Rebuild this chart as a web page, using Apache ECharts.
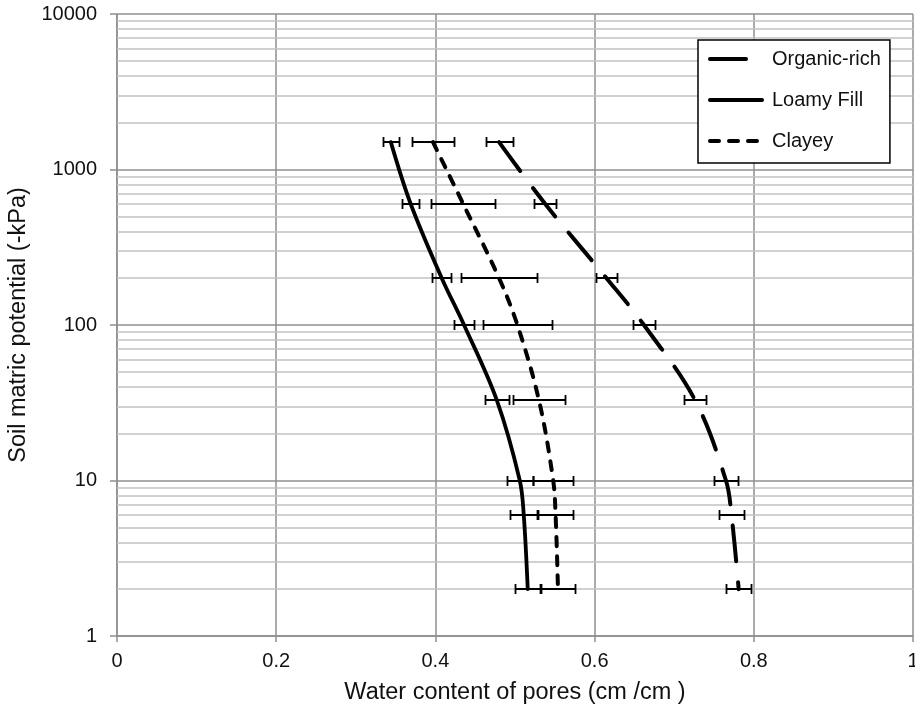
<!DOCTYPE html>
<html>
<head>
<meta charset="utf-8">
<script src="https://cdn.jsdelivr.net/npm/echarts@6/dist/echarts.min.js"></script>
<style>
html,body{margin:0;padding:0;background:#fff;}
#chart{width:915px;height:708px;}
</style>
</head>
<body>
<div id="chart"></div>
<script>
// ---- data ----
const pressures = [1500, 600, 200, 100, 33, 10, 6, 2];           // -kPa
const organicRich = [0.480, 0.538, 0.615, 0.662, 0.726, 0.765, 0.772, 0.781];
const loamyFill   = [0.344, 0.369, 0.408, 0.436, 0.477, 0.506, 0.511, 0.516];
const clayey      = [0.397, 0.435, 0.480, 0.503, 0.530, 0.548, 0.551, 0.554];
const organicErr  = [0.017, 0.014, 0.013, 0.014, 0.0135, 0.015, 0.016, 0.016];
const loamyErr    = [0.0098, 0.011, 0.012, 0.013, 0.015, 0.016, 0.017, 0.016];
const clayeyErr   = [0.026, 0.040, 0.048, 0.043, 0.033, 0.025, 0.022, 0.0215];
const seriesNames = ['Organic-rich', 'Loamy Fill', 'Clayey'];
const xTickLabels = ['0', '0.2', '0.4', '0.6', '0.8', '1'];
const yTickLabels = ['1', '10', '100', '1000', '10000'];
const minorGridValues = [2,3,4,5,6,7,8,9, 20,30,40,50,60,70,80,90,
  200,300,400,500,600,700,800,900, 2000,3000,4000,5000,6000,7000,8000,9000];

const FONT = 'Liberation Sans, Arial, Helvetica, sans-serif';

function pairs(xs) { return xs.map((x, i) => [x, pressures[i]]); }
function errData(xs, es) { return xs.map((x, i) => [x - es[i], x + es[i], pressures[i]]); }

function errorBarItem(params, api) {
  const lo = api.coord([api.value(0), api.value(2)]);
  const hi = api.coord([api.value(1), api.value(2)]);
  const y = Math.round(lo[1]);
  const x1 = Math.round(lo[0]) + 0.5, x2 = Math.round(hi[0]) + 0.5;
  const h = 5;
  const st = { stroke: '#000', lineWidth: 2 };
  const stc = { stroke: '#000', lineWidth: 1.8 };
  return {
    type: 'group',
    children: [
      { type: 'line', shape: { x1: x1, y1: y, x2: x2, y2: y }, style: st },
      { type: 'line', shape: { x1: x1, y1: y - h, x2: x1, y2: y + h }, style: stc },
      { type: 'line', shape: { x1: x2, y1: y - h, x2: x2, y2: y + h }, style: stc }
    ]
  };
}

const lineStyles = [
  { color: '#000', width: 4, type: [36, 21], cap: 'round' },
  { color: '#000', width: 3.8, type: 'solid', cap: 'round' },
  { color: '#000', width: 4, type: [9, 10], cap: 'round' }
];
const values = [organicRich, loamyFill, clayey];
const errs = [organicErr, loamyErr, clayeyErr];

const series = [];
// minor log grid lines
series.push({
  type: 'line', name: '_minor', data: [], silent: true, z: 1,
  markLine: {
    silent: true, z: 1, symbol: ['none', 'none'], label: { show: false },
    lineStyle: { color: '#c2c2c2', width: 1.5, type: 'solid' },
    animation: false,
    data: minorGridValues.map(v => ({ yAxis: v }))
  }
});
values.forEach((vals, k) => {
  series.push({
    type: 'line', name: seriesNames[k], data: pairs(vals),
    symbol: 'none', smooth: 0.35, z: 3,
    lineStyle: lineStyles[k], itemStyle: { color: '#000' }
  });
});
values.forEach((vals, k) => {
  series.push({
    type: 'custom', name: seriesNames[k] + ' err', data: errData(vals, errs[k]),
    renderItem: errorBarItem, encode: { x: [0, 1], y: 2 }, z: 4, silent: true
  });
});

const chart = echarts.init(document.getElementById('chart'), null, { renderer: 'canvas' });
chart.setOption({
  animation: false,
  backgroundColor: '#fff',
  textStyle: { fontFamily: FONT },
  grid: { left: 117, right: 2, top: 14, bottom: 72, containLabel: false, outerBoundsMode: 'none' },
  legend: {
    data: seriesNames,
    orient: 'vertical',
    left: 698, top: 40, z: 10,
    itemWidth: 52, itemHeight: 20, itemGap: 21,
    padding: [9, 9, 12, 10],
    backgroundColor: '#fff',
    borderColor: '#000', borderWidth: 1.5, borderRadius: 0,
    itemStyle: { opacity: 0, color: 'rgba(0,0,0,0)', borderWidth: 0 },
    lineStyle: { width: 4, cap: 'round' },
    textStyle: { fontFamily: FONT, fontSize: 20, color: '#111', padding: [0, 0, 0, 5] },
    selectedMode: false
  },
  xAxis: {
    type: 'value', min: 0, max: 1, interval: 0.2,
    name: 'Water content of pores (cm /cm )',
    nameLocation: 'middle', nameGap: 45,
    nameTextStyle: { fontFamily: FONT, fontSize: 23.5, color: '#111' },
    axisLine: { show: true, lineStyle: { color: '#8f8f8f', width: 1.5 } },
    axisTick: { show: true, inside: false, length: 6, lineStyle: { color: '#8f8f8f', width: 1.5 } },
    axisLabel: {
      fontFamily: FONT, fontSize: 20, color: '#111', margin: 15,
      formatter: (v) => xTickLabels[Math.round(v / 0.2)]
    },
    splitLine: { show: true, lineStyle: { color: '#8f8f8f', width: 1.5 } }
  },
  yAxis: {
    type: 'log', logBase: 10, min: 1, max: 10000,
    name: 'Soil matric potential (-kPa)',
    nameLocation: 'middle', nameGap: 69, nameRotate: 90,
    nameTextStyle: { fontFamily: FONT, fontSize: 23.5, color: '#111' },
    axisLine: { show: true, lineStyle: { color: '#8f8f8f', width: 1.5 } },
    axisTick: { show: true, inside: false, length: 7, lineStyle: { color: '#8f8f8f', width: 1.5 } },
    axisLabel: {
      fontFamily: FONT, fontSize: 20, color: '#111', margin: 20,
      formatter: (v) => yTickLabels[Math.round(Math.log10(v))]
    },
    splitLine: { show: true, lineStyle: { color: '#8f8f8f', width: 1.5 } },
    minorTick: { show: false }, minorSplitLine: { show: false }
  },
  series: series
});
</script>
</body>
</html>
